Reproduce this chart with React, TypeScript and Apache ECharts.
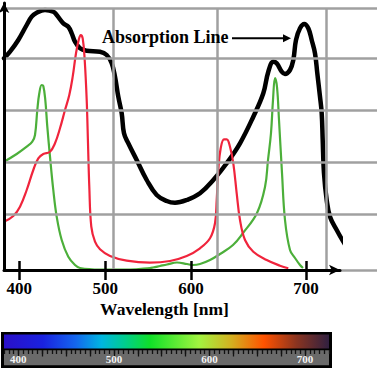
import React, { useEffect, useRef } from 'react';
import * as echarts from 'echarts';

// x in plot units (0 = y-axis, 336 = arrow tip), y in plot units (0 = x-axis)
const xTickPos = [15.3, 101.3, 187, 302];
const xTickLabels = ['400', '500', '600', '700'];

const gridVLines = [109.3, 213.3, 322];
const gridHLines = [262, 211.7, 160, 107.7, 55.7, 0];

const absorptionLine: [number, number][] = [
  [0, 211.7], [6, 218.3], [14.3, 230], [22.7, 245], [27.7, 253.3], [32.7, 257.3], [41, 260],
  [49.3, 258.3], [52.7, 255], [59.3, 246.7], [64.3, 243.3], [67.7, 236.7], [71, 228.3],
  [76, 221.7], [82.7, 219.3], [96, 218.3], [102.7, 215], [107.7, 206.7], [111, 193.3],
  [114.3, 173.3], [117.7, 156.7], [120, 136.7], [124.3, 126.7], [132.7, 110], [142.7, 90],
  [152.7, 75], [162.7, 69], [171, 67.3], [182.7, 70], [196, 76.7], [209.3, 90], [222.7, 106.7],
  [236, 126.7], [249.3, 153.3], [259.3, 176.7], [264.3, 198.3], [269.3, 208.3], [272.7, 206.7],
  [277.7, 198.3], [281, 196], [286, 200], [289.3, 210], [292, 230], [296, 241.7], [300.3, 246],
  [304.3, 241.7], [307.7, 230], [311, 216.7], [313.3, 196.7], [316, 173.3], [317.7, 156.7],
  [318.7, 130], [320, 96.7], [322.7, 70], [326, 53.3], [332.7, 40], [339.3, 28.3], [346.7, 16.7],
];

const redLine: [number, number][] = [
  [0, 48.3], [9.3, 54], [16, 63.3], [22.7, 80], [29.3, 100], [34.3, 111.7], [39.3, 116],
  [46, 118.3], [51, 126.7], [56, 141.7], [61, 160], [65.3, 175], [68.7, 193.3], [72, 216.7],
  [74.7, 230], [76.7, 235], [78.7, 231.7], [80.7, 210], [82.7, 170], [84, 126.7], [85.3, 83.3],
  [87.3, 43.3], [91, 28.3], [96, 20.7], [106, 14], [122.7, 9.3], [146, 7.3], [166, 9],
  [182.7, 14], [196, 21.7], [206, 31.7], [211, 46.7], [212.7, 70], [214.3, 100], [216.7, 121.7],
  [220, 130.7], [222.7, 130.7], [226, 123.3], [229.3, 106.7], [232.7, 76.7], [236, 50],
  [241, 30], [249.3, 18.3], [262.7, 10], [276, 4.3], [284.3, 1.7],
];

const greenLine: [number, number][] = [
  [0, 108.3], [12.7, 116], [22.7, 123.3], [28.3, 128.3], [31, 135], [33.3, 160], [35.3, 176.7],
  [37.7, 185], [39.3, 184], [41.3, 170], [43.3, 143.3], [46, 113.3], [49.3, 80], [52.7, 53.3],
  [57.7, 30], [64.3, 13.3], [71, 5], [76, 2], [96, 0.5], [126, 0.5], [146, 2], [149, 2.5],
  [156, 4], [163, 5.5], [173, 7.5], [183, 6], [189, 5], [196, 6], [206, 10], [216, 16],
  [229, 25], [239, 37], [253, 57], [261, 83], [264, 110], [267, 137], [269, 170], [271, 192],
  [273, 183], [275, 150], [278, 97], [281, 50], [286, 20], [291, 12], [296, 5], [299, 2],
];

const rulerRange = [400, 700];
const rulerLabels = [400, 500, 600, 700];
const rulerMajorTicks = [400, 425, 450, 475, 500, 525, 550, 575, 600, 625, 650, 675, 700];

const SERIF = '"Liberation Serif", "Times New Roman", serif';

export default function App() {
  const ref = useRef<HTMLDivElement>(null);
  useEffect(() => {
    if (!ref.current) return;
    const chart = echarts.init(ref.current, null, { renderer: 'svg' });
    const nearestLabel = (v: number) => {
      let best = 0;
      for (let i = 1; i < xTickPos.length; i++) {
        if (Math.abs(xTickPos[i] - v) < Math.abs(xTickPos[best] - v)) best = i;
      }
      return xTickLabels[best];
    };
    const hiddenAnchor = (xAxisIndex: number) => ({
      type: 'line', xAxisIndex, yAxisIndex: 2, silent: true, z: 0,
      data: rulerRange.map((v) => [v, 0.5]),
      showSymbol: false, symbol: 'none',
      lineStyle: { opacity: 0, width: 0 },
    });
    chart.setOption({
      animation: false,
      backgroundColor: '#fff',
      grid: [
        { left: 4, top: 3, width: 336, height: 267 },
        { left: 4, top: 8, right: 0, height: 262 },
        { left: 4, top: 350, width: 325, height: 15 },
      ],
      xAxis: [
        {
          gridIndex: 0, type: 'value', min: 0, max: 336, position: 'bottom', z: 5,
          axisLine: { show: true, onZero: false, lineStyle: { color: '#000', width: 3 }, symbol: ['none', 'arrow'], symbolSize: [8, 11] },
          axisTick: { show: true, customValues: xTickPos, inside: false, length: 10, lineStyle: { color: '#000', width: 2.5 } },
          axisLabel: {
            show: true, customValues: xTickPos, formatter: (v: number) => nearestLabel(v), margin: 10,
            color: '#000', fontFamily: SERIF, fontWeight: 'bold', fontSize: 17,
          },
          splitLine: { show: false },
        },
        {
          gridIndex: 0, type: 'value', min: 0, max: 336, position: 'bottom', z: 5,
          axisLine: { show: false, onZero: false },
          axisTick: { show: true, customValues: xTickPos, inside: true, length: 9, lineStyle: { color: '#000', width: 2.5 } },
          axisLabel: { show: false },
          splitLine: { show: false },
        },
        { gridIndex: 1, type: 'value', min: 0, max: 373, show: false },
        {
          gridIndex: 2, type: 'value', min: 385, max: 725, interval: 5, position: 'top', z: 10,
          axisLine: { show: false, onZero: false },
          axisTick: { show: true, inside: true, length: 4, lineStyle: { color: '#111', width: 1.3 } },
          axisLabel: { show: false },
          splitLine: { show: false },
        },
        {
          gridIndex: 2, type: 'value', min: 385, max: 725, position: 'top', z: 10,
          axisLine: { show: false, onZero: false },
          axisTick: { show: true, inside: true, customValues: rulerMajorTicks, length: 6.5, lineStyle: { color: '#111', width: 1.3 } },
          axisLabel: {
            show: true, inside: true, customValues: rulerLabels, margin: 3.5, color: '#f4f4f4',
            fontFamily: SERIF, fontWeight: 'bold', fontSize: 11,
          },
          splitLine: { show: false },
        },
      ],
      yAxis: [
        {
          gridIndex: 0, type: 'value', min: 0, max: 267, z: 5,
          axisLine: { show: true, onZero: false, lineStyle: { color: '#000', width: 3 }, symbol: ['none', 'arrow'], symbolSize: [8, 10] },
          axisTick: { show: false }, axisLabel: { show: false }, splitLine: { show: false },
        },
        { gridIndex: 1, type: 'value', min: 0, max: 262, show: false },
        { gridIndex: 2, type: 'value', min: 0, max: 1, show: false },
      ],
      series: [
        {
          type: 'line', xAxisIndex: 2, yAxisIndex: 1, data: [], silent: true, z: 1,
          markLine: {
            silent: true, symbol: ['none', 'none'], animation: false,
            label: { show: false },
            lineStyle: { color: '#a0a0a0', width: 2.5, type: 'solid' },
            emphasis: { disabled: true },
            data: [
              ...gridVLines.map((v) => ({ xAxis: v })),
              ...gridHLines.map((v) => ({ yAxis: v })),
            ],
          },
        },
        hiddenAnchor(3),
        hiddenAnchor(4),
        {
          type: 'line', xAxisIndex: 0, yAxisIndex: 0, data: absorptionLine, smooth: 0.4,
          showSymbol: false, symbol: 'none', clip: false, silent: true, z: 2,
          lineStyle: { color: '#000', width: 4.5, cap: 'round', join: 'round' },
        },
        {
          type: 'line', xAxisIndex: 0, yAxisIndex: 0, data: greenLine, smooth: 0.4,
          showSymbol: false, symbol: 'none', clip: false, silent: true, z: 3,
          lineStyle: { color: '#4caf3a', width: 2.2 },
        },
        {
          type: 'line', xAxisIndex: 0, yAxisIndex: 0, data: redLine, smooth: 0.4,
          showSymbol: false, symbol: 'none', clip: false, silent: true, z: 3,
          lineStyle: { color: '#f0243c', width: 2.2 },
        },
      ],
      graphic: {
        elements: [
          {
            type: 'text', x: 102, y: 37, z: 20,
            style: {
              text: 'Absorption Line', fill: '#000', font: `bold 18px ${SERIF}`,
              verticalAlign: 'middle', align: 'left',
            },
          },
          {
            type: 'line', z: 20,
            shape: { x1: 232, y1: 38.3, x2: 285, y2: 38.3 },
            style: { stroke: '#000', lineWidth: 2 },
          },
          {
            type: 'polygon', z: 20,
            shape: { points: [[283, 34.3], [291, 38.3], [283, 42.3]] },
            style: { fill: '#000' },
          },
          {
            type: 'text', x: 164.5, y: 309, z: 20,
            style: {
              text: 'Wavelength [nm]', fill: '#000', font: `bold 17.5px ${SERIF}`,
              verticalAlign: 'middle', align: 'center',
            },
          },
          {
            type: 'rect', z: -10,
            shape: { x: 1, y: 332, width: 331, height: 36 },
            style: { fill: '#000' },
          },
          {
            type: 'rect', z: -9,
            shape: { x: 4, y: 334.5, width: 325, height: 14 },
            style: {
              fill: new echarts.graphic.LinearGradient(0, 0, 1, 0, [
                { offset: 0, color: '#2a10c8' },
                { offset: 0.12, color: '#1a22e0' },
                { offset: 0.22, color: '#1466ee' },
                { offset: 0.3, color: '#00b6e0' },
                { offset: 0.37, color: '#00cc90' },
                { offset: 0.45, color: '#10e028' },
                { offset: 0.6, color: '#a2f440' },
                { offset: 0.7, color: '#d4b020' },
                { offset: 0.8, color: '#ff5200' },
                { offset: 0.9, color: '#8a3420' },
                { offset: 1, color: '#302040' },
              ]),
            },
          },
          {
            type: 'rect', z: -9,
            shape: { x: 4, y: 350.3, width: 325, height: 15 },
            style: { fill: '#6a6a6a' },
          },
        ],
      },
    });
    return () => chart.dispose();
  }, []);
  return (
    <div
      ref={ref}
      style={{ position: 'absolute', left: 0, top: 0, width: 377, height: 368, background: '#fff' }}
    />
  );
}
